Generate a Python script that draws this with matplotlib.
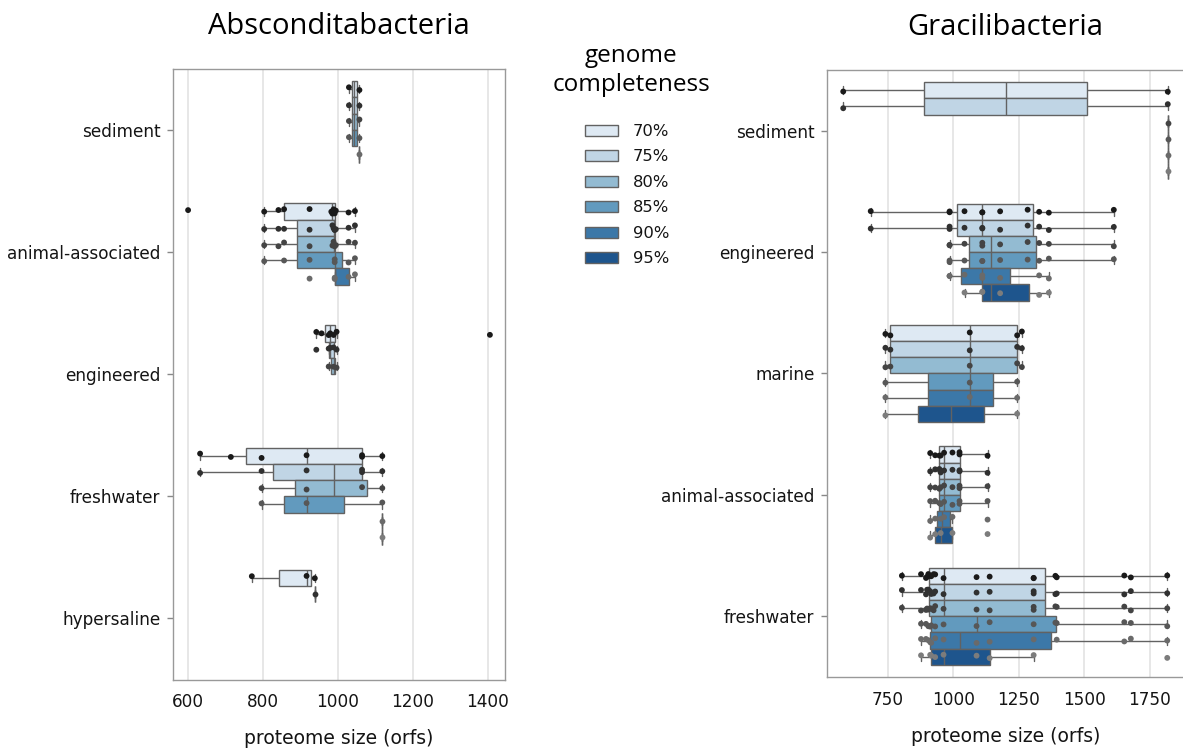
import matplotlib
matplotlib.use("Agg")
import matplotlib.pyplot as plt
import numpy as np
import pandas as pd
import seaborn as sns

# completeness thresholds used as hue levels
levels = [70, 75, 80, 85, 90, 95]
level_labels = ["70%", "75%", "80%", "85%", "90%", "95%"]

# Absconditabacteria genomes: environment, proteome size (orfs), completeness (%)
abs_order = ["sediment", "animal-associated", "engineered", "freshwater", "hypersaline"]
abs_env = (["sediment"] * 2 + ["animal-associated"] * 13 + ["engineered"] * 7
           + ["freshwater"] * 7 + ["hypersaline"] * 3)
abs_size = [1029, 1057,
            600, 803, 841, 856, 924, 982, 985, 988, 991, 991, 994, 1028, 1045,
            942, 956, 975, 979, 988, 996, 1405,
            632, 714, 796, 916, 1064, 1064, 1118,
            770, 916, 938]
abs_comp = [88.1, 93.4,
            71.9, 86.2, 83.5, 88.7, 91.0, 73.6, 81.2, 84.1, 92.5, 94.3, 80.8, 90.6, 93.9,
            78.3, 71.4, 83.2, 76.5, 82.7, 80.9, 70.8,
            77.1, 72.9, 86.4, 88.0, 79.2, 81.6, 96.2,
            73.3, 71.7, 78.8]

# Gracilibacteria genomes
gra_order = ["sediment", "engineered", "marine", "animal-associated", "freshwater"]
gra_env = (["sediment"] * 2 + ["engineered"] * 11 + ["marine"] * 5
           + ["animal-associated"] * 9 + ["freshwater"] * 19)
gra_size = [580, 1819,
            685, 986, 986, 1043, 1111, 1111, 1179, 1284, 1328, 1365, 1613,
            741, 760, 1063, 1244, 1262,
            912, 931, 947, 952, 965, 997, 1024, 1024, 1131,
            804, 877, 896, 900, 905, 912, 916, 925, 931, 963, 1089, 1139, 1307, 1307,
            1390, 1395, 1653, 1678, 1817]
gra_comp = [78.4, 97.5,
            77.6, 91.3, 93.0, 95.8, 96.7, 98.1, 95.4, 86.9, 97.2, 96.0, 88.3,
            96.4, 82.1, 92.2, 97.9, 83.8,
            96.9, 95.2, 87.4, 97.6, 91.8, 96.1, 86.0, 89.2, 95.7,
            82.4, 96.6, 91.5, 83.1, 93.7, 95.9, 97.3, 81.9, 96.8, 95.5, 97.0, 96.2, 95.1, 84.6,
            87.8, 92.9, 90.7, 94.1, 96.5]


def expand(env, size, comp):
    # a genome counts for every threshold its completeness reaches
    rows = []
    for e, s, c in zip(env, size, comp):
        for lv, lab in zip(levels, level_labels):
            if c >= lv:
                rows.append((e, s, lab))
    return pd.DataFrame(rows, columns=["env", "size", "completeness"])


sns.set_style("whitegrid")
plt.rcParams["font.family"] = ["DejaVu Sans"]
plt.rcParams["text.color"] = "#141414"
plt.rcParams["axes.labelcolor"] = "#141414"
plt.rcParams["xtick.labelcolor"] = "#141414"
plt.rcParams["ytick.labelcolor"] = "#141414"

blues = sns.color_palette("Blues", 6)
dot_grays = ["#1a1a1a", "#303030", "#444444", "#575757", "#6a6a6a", "#7c7c7c"]

fig = plt.figure(figsize=(11.83, 7.54), dpi=100)
ax_l = fig.add_axes([173 / 1183, 1 - 679.5 / 754, 332 / 1183, 610.5 / 754])
ax_r = fig.add_axes([827 / 1183, 1 - 677 / 754, 357 / 1183, 607 / 754])

panels = [
    (ax_l, expand(abs_env, abs_size, abs_comp), abs_order, "Absconditabacteria", [600, 800, 1000, 1200, 1400]),
    (ax_r, expand(gra_env, gra_size, gra_comp), gra_order, "Gracilibacteria", [750, 1000, 1250, 1500, 1750]),
]

for ax, df, order, title, xt in panels:
    sns.boxplot(data=df, x="size", y="env", hue="completeness", order=order,
                hue_order=level_labels, palette=blues, saturation=0.75,
                showfliers=False, linewidth=1, linecolor="#626262", ax=ax)
    sns.stripplot(data=df, x="size", y="env", hue="completeness", order=order,
                  hue_order=level_labels, palette=dot_grays, dodge=True,
                  jitter=0.12, size=4.2, linewidth=0, legend=False, ax=ax)
    ax.set_xticks(xt)
    ax.set_ylabel("")
    ax.set_xlabel("proteome size (orfs)", fontsize=13.5, labelpad=13)
    ax.set_title(title, fontsize=21, family="Open Sans", pad=25, color="black")
    ax.grid(axis="x", color="#e3e3e3", linewidth=1.2)
    ax.grid(axis="y", visible=False)
    ax.tick_params(axis="x", labelsize=12.2, length=0, pad=10)
    ax.tick_params(axis="y", labelsize=12.2, length=4, width=1, color="#888888", pad=5, left=True)
    for sp in ax.spines.values():
        sp.set_color("#999999")
        sp.set_linewidth(1)

handles, labels = ax_r.get_legend_handles_labels()
for ax in (ax_l, ax_r):
    if ax.get_legend() is not None:
        ax.get_legend().remove()

fig.text(631 / 1183, 1 - 70.5 / 754, "genome\ncompleteness", ha="center", va="center",
         fontsize=17.5, family="Open Sans", linespacing=1.3, color="black")
fig.legend(handles, labels, loc="upper left", bbox_to_anchor=(585 / 1183, 1 - 124 / 754),
           frameon=False, fontsize=11.8, borderpad=0, borderaxespad=0,
           handlelength=2.0, handleheight=0.68, labelspacing=0.64, handletextpad=0.9)

fig.savefig("out.png", dpi=100)
